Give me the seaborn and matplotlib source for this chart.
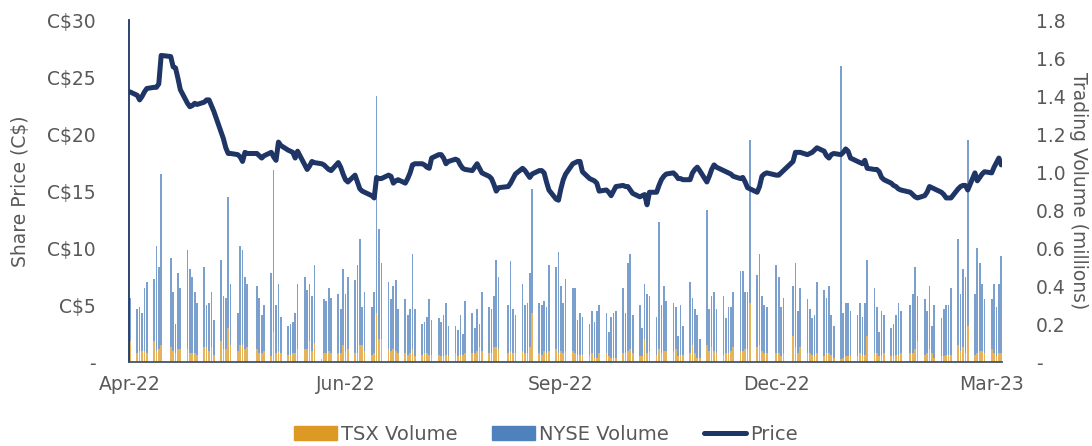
import numpy as np
import pandas as pd
import matplotlib
matplotlib.use("Agg")
import matplotlib.pyplot as plt
import matplotlib.dates as mdates
from matplotlib.patches import Patch
from matplotlib.lines import Line2D
from matplotlib.ticker import FuncFormatter
import seaborn as sns

nan = np.nan

# trading days Apr 1 2022 - Mar 31 2023, one row per week (nan = market closed)
first_day = "2022-04-01"
last_day = "2023-03-31"

price = [
    23.7,
    23.4, 23.0, 23.3, 23.7, 24.0,
    24.1, 24.1, 24.4, 26.9, nan,
    26.8, 25.9, 25.8, 24.9, 23.9,
    22.7, 22.4, 22.5, 22.7, 22.6,
    22.8, 23.0, 23.0, 22.5, 22.0,
    20.2, 19.6, 18.8, 18.3, 18.3,
    18.2, 18.0, 17.6, 18.4, 18.3,
    nan, 18.3, 18.1, 17.9, 18.1,
    18.4, 18.0, 17.7, 19.3, 19.0,
    18.6, 18.5, 18.4, 17.9, 18.5,
    17.3, 16.9, 17.2, 17.6, 17.5,
    17.4, 17.3, 17.1, 16.9, 16.8,
    17.5, 17.1, 16.5, 16.0, 15.8,
    16.4, 15.8, 15.2, 15.0, 14.9,
    14.6, 14.4, 16.2, 16.1, 16.1,
    16.4, 16.3, 15.7, 15.9, 16.0,
    15.7, 16.1, 16.6, 17.3, 17.4,
    17.4, 17.3, 17.1, 17.0, 17.9,
    18.2, 18.2, 17.9, 17.4, 17.6,
    17.8, 17.7, 17.3, 17.0, 16.9,
    16.8, 17.1, 17.4, 17.0, 16.6,
    16.3, 16.1, 15.6, 15.0, 15.3,
    nan, 15.4, 15.7, 16.1, 16.5,
    17.0, 16.8, 16.5, 16.2, 16.5,
    16.8, 16.8, 16.6, 15.8, 15.1,
    14.3, 14.2, 15.2, 16.0, 16.5,
    17.4, 17.5, 17.6, 17.6, 16.7,
    16.1, 16.0, 15.9, 15.7, 15.0,
    15.1, 14.9, 14.6, 15.0, 15.4,
    15.5, 15.4, 15.4, 15.1, 14.8,
    14.5, 14.6, 14.7, 13.8, 14.9,
    14.9, 15.5, 16.0, 16.3, 16.5,
    16.6, 16.4, 16.1, 16.1, 16.0,
    16.0, 16.6, 16.9, 17.1, 16.8,
    15.8, 16.3, 16.9, 17.3, 17.1,
    16.8, 16.7, 16.6, 16.5, 16.3,
    16.1, 16.2, 15.8, 15.3, 15.2,
    14.9, 15.4, 16.3, 16.5, 16.6,
    nan, 16.4, 16.4, 16.6, 16.8,
    nan, 17.6, 18.4, 18.4, 18.4,
    18.2, 18.3, 18.4, 18.6, 18.8,
    18.5, 18.1, 17.9, 18.2, 18.3,
    18.2, 18.4, 18.7, 18.5, 17.9,
    17.6, 17.5, 17.4, 17.7, 17.0,
    16.9, 16.9, 16.7, 16.2, 16.0,
    15.7, 15.5, 15.4, 15.2, 15.1,
    nan, 14.9, 14.7, 14.5, 14.4,
    14.6, 14.9, 15.4, 15.3, 15.2,
    14.9, 14.7, 14.4, 14.4, 14.4,
    15.2, 15.4, 15.5, 15.5, 15.1,
    16.6, 15.9, 16.2, 16.5, 16.7,
    16.6, 17.1, 17.5, 17.9, 17.3,
]

tsx_volume = [
    0.11,
    0.05, 0.06, 0.06, 0.06, 0.05,
    0.11, 0.06, 0.07, 0.09, nan,
    0.08, 0.06, 0.05, 0.07, 0.07,
    0.07, 0.05, 0.05, 0.05, 0.04,
    0.08, 0.08, 0.06, 0.08, 0.04,
    0.11, 0.07, 0.07, 0.18, 0.09,
    0.06, 0.09, 0.09, 0.07, 0.08,
    nan, 0.07, 0.05, 0.05, 0.06,
    0.03, 0.16, 0.05, 0.06, 0.05,
    0.04, 0.04, 0.05, 0.05, 0.07,
    0.07, 0.07, 0.11, 0.06, 0.10,
    0.015, 0.05, 0.05, 0.06, 0.05,
    0.05, 0.05, 0.09, 0.06, 0.07,
    0.05, 0.05, 0.09, 0.09, 0.06,
    0.04, 0.05, 0.26, 0.12, 0.12,
    0.07, 0.06, 0.07, 0.06, 0.05,
    0.05, 0.04, 0.05, 0.07, 0.03,
    0.04, 0.05, 0.05, 0.04, 0.04,
    0.04, 0.03, 0.03, 0.04, 0.03,
    0.05, 0.03, 0.04, 0.04, 0.05,
    0.05, 0.05, 0.06, 0.08, 0.06,
    0.05, 0.05, 0.08, 0.08, 0.07,
    nan, 0.05, 0.06, 0.05, 0.05,
    0.06, 0.05, 0.05, 0.08, 0.26,
    0.05, 0.04, 0.06, 0.05, 0.06,
    0.07, 0.05, 0.06, 0.05, 0.06,
    0.06, 0.05, 0.04, 0.04, 0.04,
    0.04, 0.05, 0.02, 0.02, 0.05,
    0.05, 0.03, 0.02, 0.02, 0.02,
    0.05, 0.05, 0.06, 0.07, 0.05,
    0.03, 0.03, 0.12, 0.05, 0.06,
    0.04, 0.07, 0.05, 0.06, 0.06,
    0.06, 0.07, 0.03, 0.04, 0.04,
    0.05, 0.09, 0.05, 0.02, 0.02,
    0.09, 0.06, 0.08, 0.06, 0.05,
    0.04, 0.05, 0.05, 0.06, 0.08,
    0.06, 0.06, 0.07, 0.07, 0.31,
    0.08, 0.09, 0.06, 0.05, 0.05,
    nan, 0.05, 0.05, 0.03, 0.05,
    nan, 0.14, 0.08, 0.05, 0.08,
    0.05, 0.05, 0.04, 0.03, 0.05,
    0.03, 0.05, 0.05, 0.04, 0.02,
    0.015, 0.02, 0.03, 0.03, 0.03,
    0.03, 0.05, 0.04, 0.04, 0.14,
    0.05, 0.05, 0.03, 0.04, 0.05,
    0.03, 0.03, 0.04, 0.04, 0.05,
    nan, 0.05, 0.05, 0.07, 0.11,
    0.04, 0.05, 0.07, 0.05, 0.02,
    0.03, 0.03, 0.04, 0.04, 0.04,
    0.09, 0.06, 0.08, 0.05, 0.19,
    0.04, 0.05, 0.06, 0.06, 0.05,
    0.07, 0.05, 0.03, 0.05, 0.05,
]

nyse_volume = [
    0.23,
    0.23, 0.23, 0.20, 0.33, 0.37,
    0.33, 0.55, 0.43, 0.90, nan,
    0.47, 0.31, 0.15, 0.40, 0.32,
    0.52, 0.44, 0.40, 0.32, 0.27,
    0.42, 0.22, 0.25, 0.29, 0.18,
    0.43, 0.28, 0.27, 0.69, 0.32,
    0.20, 0.52, 0.50, 0.38, 0.33,
    nan, 0.33, 0.29, 0.20, 0.24,
    0.44, 0.85, 0.25, 0.35, 0.19,
    0.15, 0.16, 0.16, 0.21, 0.34,
    0.38, 0.31, 0.30, 0.29, 0.41,
    0.00, 0.28, 0.27, 0.33, 0.29,
    0.31, 0.23, 0.40, 0.30, 0.38,
    0.38, 0.46, 0.56, 0.20, 0.31,
    0.25, 0.32, 1.14, 0.58, 0.40,
    0.35, 0.27, 0.33, 0.37, 0.23,
    0.28, 0.21, 0.23, 0.50, 0.25,
    0.16, 0.16, 0.19, 0.29, 0.18,
    0.19, 0.18, 0.22, 0.27, 0.16,
    0.14, 0.14, 0.21, 0.11, 0.27,
    0.21, 0.13, 0.22, 0.12, 0.31,
    0.24, 0.23, 0.27, 0.46, 0.38,
    nan, 0.25, 0.47, 0.23, 0.20,
    0.35, 0.25, 0.26, 0.39, 0.65,
    0.26, 0.26, 0.26, 0.24, 0.45,
    0.43, 0.53, 0.34, 0.26, 0.38,
    0.33, 0.34, 0.18, 0.22, 0.20,
    0.16, 0.22, 0.19, 0.25, 0.25,
    0.21, 0.13, 0.22, 0.24, 0.25,
    0.34, 0.21, 0.46, 0.50, 0.20,
    0.27, 0.15, 0.29, 0.31, 0.29,
    0.20, 0.67, 0.25, 0.34, 0.26,
    0.25, 0.22, 0.11, 0.26, 0.15,
    0.37, 0.25, 0.23, 0.23, 0.10,
    0.71, 0.22, 0.27, 0.31, 0.23,
    0.31, 0.18, 0.24, 0.23, 0.29,
    0.42, 0.42, 0.30, 0.30, 0.86,
    0.38, 0.48, 0.29, 0.25, 0.24,
    nan, 0.46, 0.40, 0.26, 0.29,
    nan, 0.26, 0.44, 0.22, 0.31,
    0.28, 0.23, 0.19, 0.22, 0.37,
    0.35, 0.29, 0.35, 0.21, 0.17,
    1.545, 0.24, 0.28, 0.28, 0.24,
    0.22, 0.26, 0.20, 0.27, 0.40,
    0.34, 0.24, 0.13, 0.23, 0.20,
    0.15, 0.17, 0.21, 0.27, 0.22,
    nan, 0.25, 0.31, 0.43, 0.24,
    0.29, 0.22, 0.33, 0.14, 0.28,
    0.20, 0.25, 0.26, 0.26, 0.35,
    0.56, 0.30, 0.41, 0.40, 0.98,
    0.32, 0.55, 0.46, 0.35, 0.28,
    0.26, 0.36, 0.26, 0.36, 0.51,
]

tick_dates = ["2022-04-01", "2022-06-30", "2022-09-28", "2022-12-27", "2023-03-27"]

orange = "#DC9A24"
blue = "#4F81BD"
navy = "#1F3566"
grey = "#595959"

dates = pd.bdate_range(first_day, last_day)
df = pd.DataFrame({"Date": dates, "Price": price,
                   "TSX": tsx_volume, "NYSE": nyse_volume}).dropna()

sns.set_theme(style="white")
plt.rcParams["font.family"] = ["DejaVu Sans"]

fig, ax = plt.subplots(figsize=(10.92, 4.46), dpi=100)
fig.subplots_adjust(left=0.118, right=0.918, top=0.955, bottom=0.188)
ax2 = ax.twinx()

# volume bars (stacked) on the right axis
ax2.bar(df["Date"], df["TSX"], width=0.7, color=orange, alpha=0.75, linewidth=0)
ax2.bar(df["Date"], df["NYSE"], bottom=df["TSX"], width=0.7, color=blue, alpha=0.75, linewidth=0)

# price line on the left axis, kept above the bars
sns.lineplot(data=df, x="Date", y="Price", ax=ax, color=navy, linewidth=3.6)
ax.set_zorder(ax2.get_zorder() + 1)
ax.patch.set_visible(False)

ax.set_xlim(pd.Timestamp(first_day) - pd.Timedelta(hours=12),
            pd.Timestamp(last_day) + pd.Timedelta(hours=12))
ax.set_ylim(0, 30)
ax2.set_ylim(0, 1.8)
ax.set_yticks(range(0, 31, 5))
ax2.set_yticks(np.arange(0, 1.81, 0.2))
ax.yaxis.set_major_formatter(FuncFormatter(lambda v, p: "-" if v == 0 else f"C${v:.0f}"))
ax2.yaxis.set_major_formatter(FuncFormatter(lambda v, p: "-" if v == 0 else f"{v:.1f}"))
ax.set_xticks(pd.to_datetime(tick_dates))
ax.xaxis.set_major_formatter(mdates.DateFormatter("%b-%y"))

ax.set_xlabel("")
ax.set_ylabel("Share Price (C$)", color=grey, fontsize=13.5, labelpad=12)
ax2.set_ylabel("Trading Volume (millions)", color=grey, fontsize=13.5,
               rotation=270, labelpad=16)

ax.tick_params(axis="both", length=0, colors=grey, labelsize=13.5)
ax.tick_params(axis="y", pad=24)
ax.tick_params(axis="x", pad=9)
ax2.tick_params(axis="y", length=0, colors=grey, labelsize=13.5, pad=24)

for s in ["top", "right"]:
    ax.spines[s].set_visible(False)
for s in ax2.spines.values():
    s.set_visible(False)
ax.spines["left"].set_color(navy)
ax.spines["left"].set_linewidth(1.3)
ax.spines["bottom"].set_color("#44546A")
ax.spines["bottom"].set_linewidth(1.3)

handles = [Patch(color=orange, label="TSX Volume"),
           Patch(color=blue, label="NYSE Volume"),
           Line2D([0], [0], color=navy, linewidth=3.6, solid_capstyle="round", label="Price")]
fig.legend(handles=handles, loc="lower center", bbox_to_anchor=(0.5, -0.035), ncol=3,
           frameon=False, fontsize=14, handlelength=2.2, handleheight=0.7,
           handletextpad=0.2, columnspacing=1.8, labelcolor=grey)

fig.savefig("out.png", dpi=100)
